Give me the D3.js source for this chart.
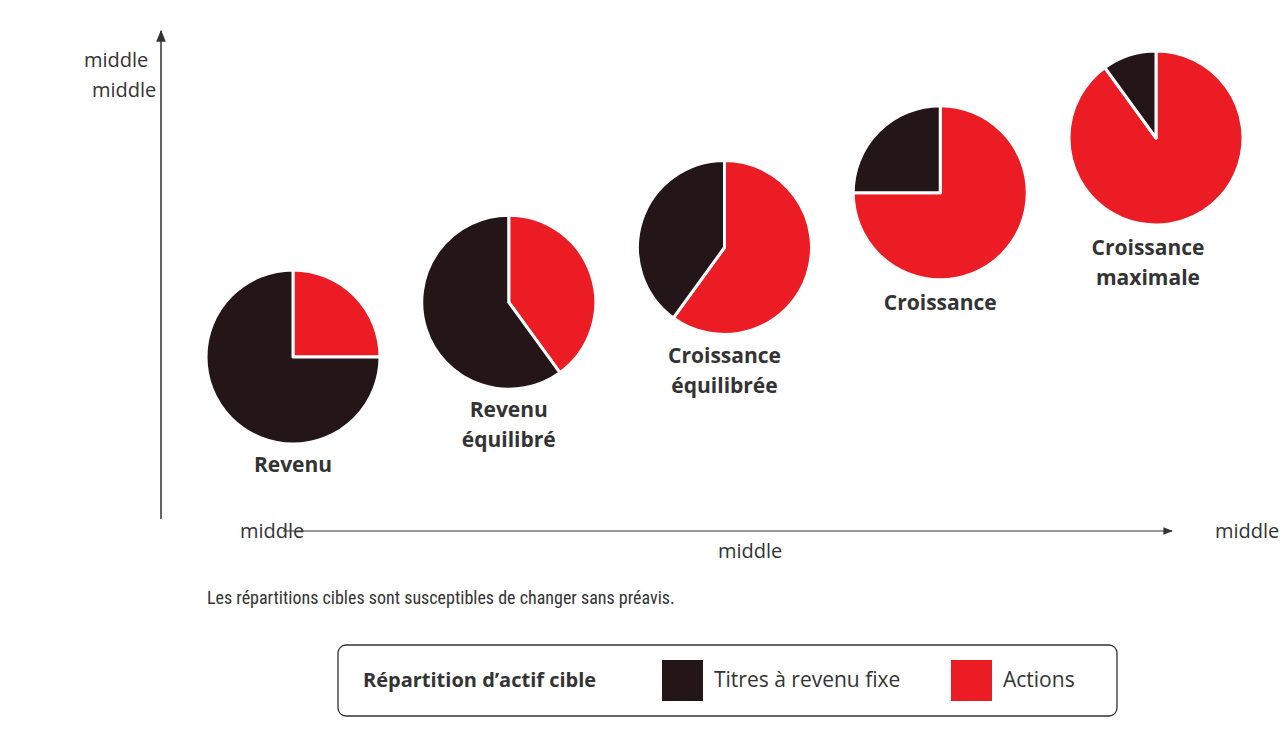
<!DOCTYPE html>
<html><head><meta charset="utf-8">
<script src="https://cdn.jsdelivr.net/npm/d3@7"></script>
<style>body{margin:0;background:#fff;font-family:"Open Sans",sans-serif}</style>
</head><body><svg id="c" width="1280" height="731"></svg>
<script>
const categories = ["Revenu","Revenu équilibré","Croissance équilibrée","Croissance","Croissance maximale"];
const labelLines = [["Revenu"],["Revenu","équilibré"],["Croissance","équilibrée"],["Croissance"],["Croissance","maximale"]];
const actions = [25,40,60,75,90];
const fixe = [75,60,40,25,10];
const legendLabels = ["Titres à revenu fixe","Actions"];
const RED="#ec1c24", BLK="#231518";
const svg=d3.select("#c");
const x=d3.scalePoint().domain(categories).range([293,1156]);
const y=d3.scaleLinear().domain([0,4]).range([357,138]);
const r=87;
const pie=d3.pie().sort(null).value(d=>d.v);
const arc=d3.arc().innerRadius(0).outerRadius(r);
categories.forEach((c,i)=>{
  const g=svg.append("g").attr("transform",`translate(${x(c)},${y(i)})`);
  g.selectAll("path").data(pie([{v:actions[i],c:RED},{v:fixe[i],c:BLK}])).join("path")
   .attr("d",arc).attr("fill",d=>d.data.c).attr("stroke","#fff").attr("stroke-width",3).attr("stroke-linejoin","round");
  const lines=labelLines[i];
  const top = i<3 ? y(i)+r+28 : y(i)+r+30;
  lines.forEach((t,j)=>svg.append("text").attr("x",x(c)-(i==4?8:0)).attr("y",top+j*30).attr("text-anchor","middle")
    .attr("font-size",21).attr("font-weight",700).attr("fill","#333").text(t));
});
// axes
svg.append("defs").append("marker").attr("id","ar").attr("viewBox","0 0 10 10").attr("refX",9).attr("refY",5)
 .attr("markerWidth",8).attr("markerHeight",8).attr("orient","auto").append("path").attr("d","M0,1L10,5L0,9Z").attr("fill","#333");
svg.append("line").attr("x1",161).attr("y1",519).attr("x2",161).attr("y2",31).attr("stroke","#333").attr("stroke-width",1.5).attr("marker-end","url(#ar)");
svg.append("line").attr("x1",283).attr("y1",531).attr("x2",1172).attr("y2",531).attr("stroke","#333").attr("stroke-width",1.2).attr("marker-end","url(#ar)");
const t=(x0,y0,s,txt,a="start",f=20)=>svg.append("text").attr("x",x0).attr("y",y0).attr("text-anchor",a).attr("font-size",f).attr("fill","#333").text(txt);
t(84,67,"Potentiel de","middle");t(92,97,"croissance","middle");
t(240,538,"Faible","middle");t(1215,538,"Élevé","middle");t(718,558,"Risque","middle");
svg.append("text").attr("x",207).attr("y",604).attr("font-size",18).attr("font-family","'Liberation Sans Narrow','Roboto Condensed',sans-serif")
 .attr("font-stretch","condensed").attr("fill","#333").text("Les répartitions cibles sont susceptibles de changer sans préavis.");
// legend
svg.append("rect").attr("x",338).attr("y",645).attr("width",779).attr("height",71).attr("rx",8).attr("fill","#fff").attr("stroke","#333").attr("stroke-width",1.3);
svg.append("text").attr("x",363).attr("y",687).attr("font-size",20).attr("font-weight",700).attr("fill","#333").text("Répartition d’actif cible");
[[662,BLK],[951,RED]].forEach(([lx,c],i)=>{
  svg.append("rect").attr("x",lx).attr("y",660).attr("width",41).attr("height",41).attr("fill",c);
  t(lx+52,687,0,legendLabels[i]).attr("font-size",21);
});
</script></body></html>
